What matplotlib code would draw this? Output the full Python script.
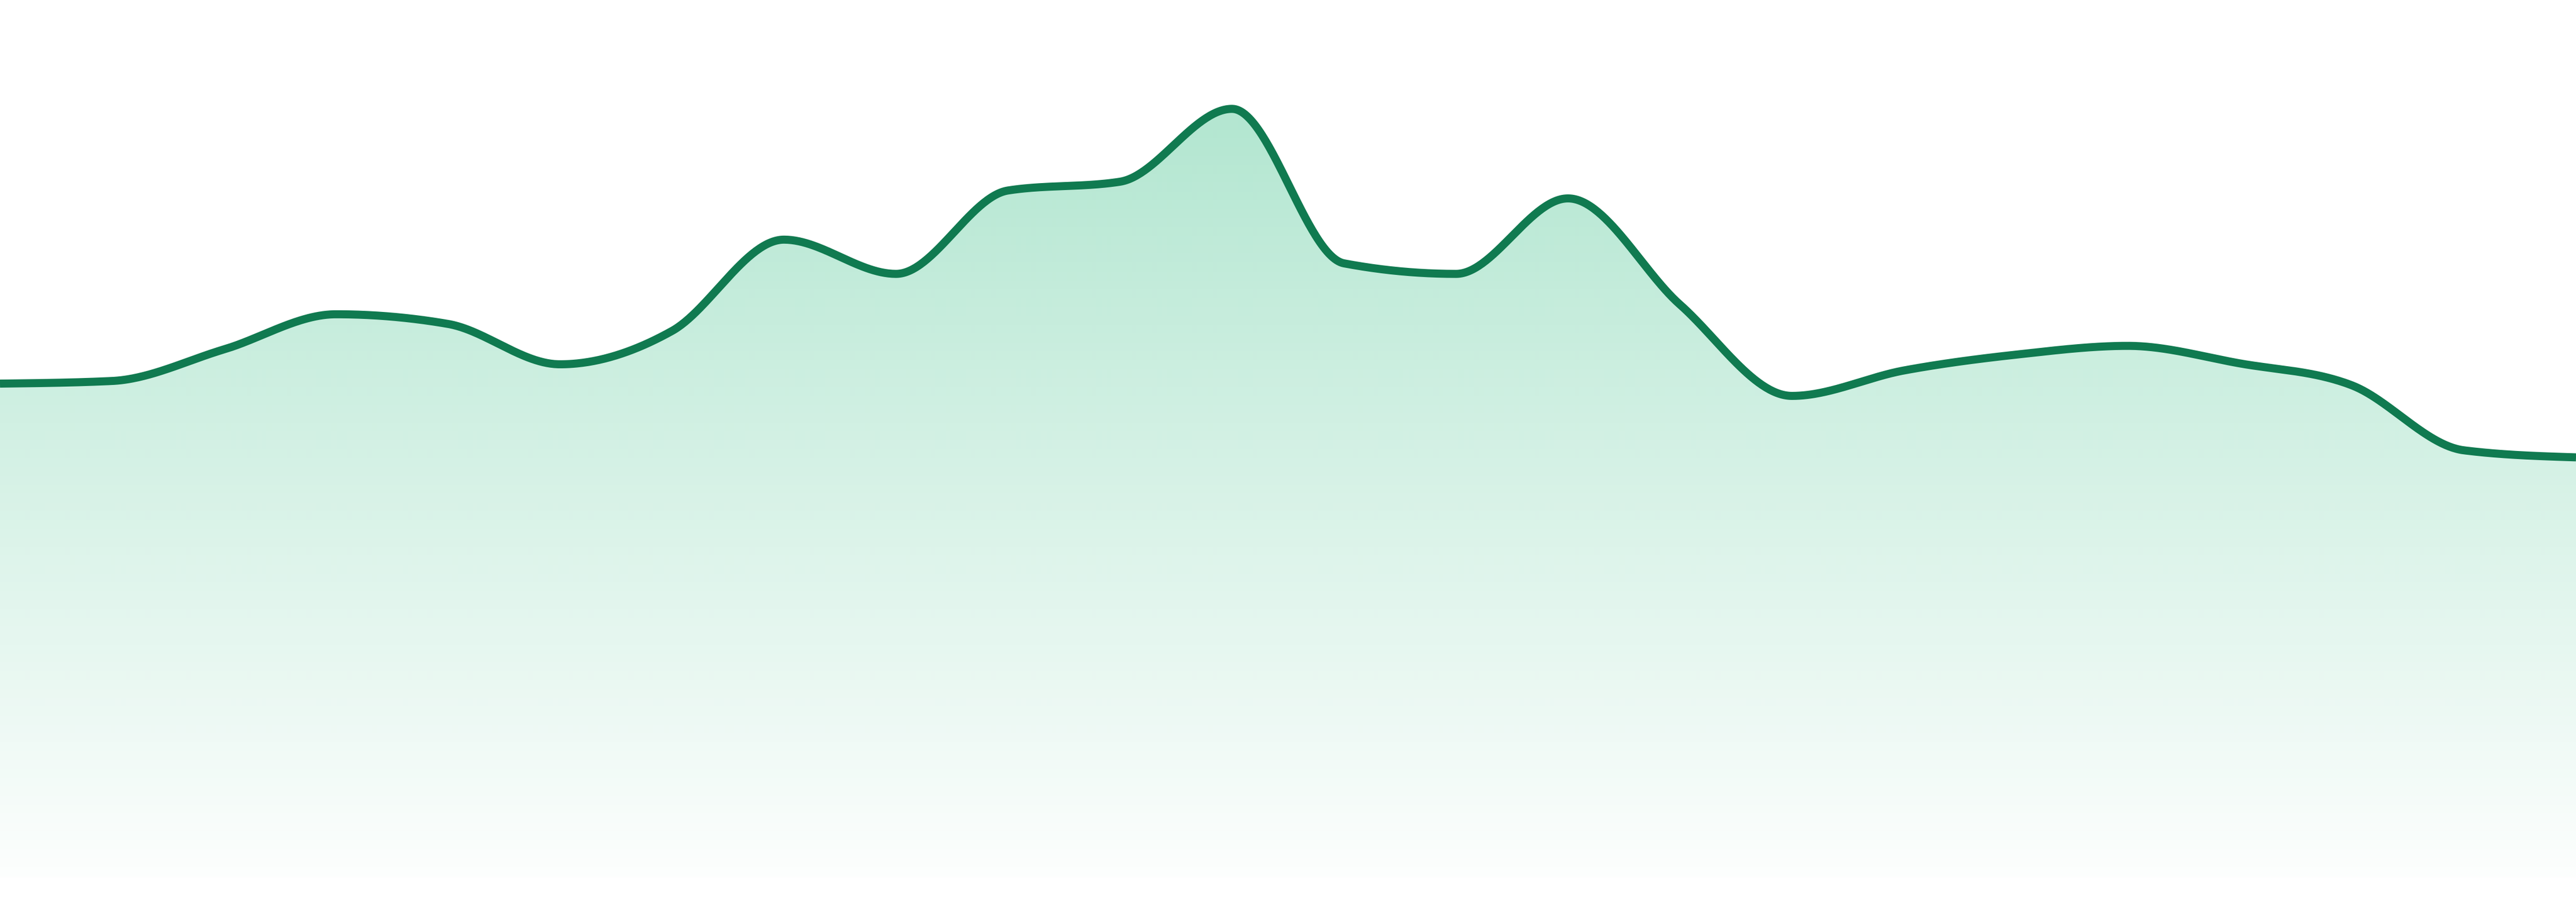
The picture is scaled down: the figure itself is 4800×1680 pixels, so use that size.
import numpy as np
import matplotlib
matplotlib.use("Agg")
import matplotlib.pyplot as plt
from matplotlib.patches import Polygon

# values (baseline = 0)
periods = list(range(24))
values = [56.3, 56.6, 60.2, 64.2, 63.1, 58.5, 62.3, 72.7, 68.8, 78.3, 79.3, 87.6,
          70.0, 68.8, 77.4, 65.3, 54.9, 57.8, 59.6, 60.6, 58.6, 56.1, 48.7, 47.9]

LINE_COLOR = "#107a50"
FILL_RGB = (35 / 255, 184 / 255, 121 / 255)


def monotone_x(x, y, n=60):
    x = np.asarray(x, float)
    y = np.asarray(y, float)
    m = len(x)
    h = np.diff(x)
    s = np.diff(y) / h
    t = np.zeros(m)
    for i in range(1, m - 1):
        h0, h1 = h[i - 1], h[i]
        s0, s1 = s[i - 1], s[i]
        p = (s0 * h1 + s1 * h0) / (h0 + h1)
        t[i] = (np.sign(s0) + np.sign(s1)) * min(abs(s0), abs(s1), 0.5 * abs(p))
    t[0] = (3 * s[0] - t[1]) / 2
    t[-1] = (3 * s[-1] - t[-2]) / 2
    xs, ys = [], []
    for i in range(m - 1):
        u = np.linspace(0, 1, n, endpoint=(i == m - 2))
        dx = h[i]
        h00 = 2 * u**3 - 3 * u**2 + 1
        h10 = u**3 - 2 * u**2 + u
        h01 = -2 * u**3 + 3 * u**2
        h11 = u**3 - u**2
        xs.append(x[i] + u * dx)
        ys.append(h00 * y[i] + h10 * dx * t[i] + h01 * y[i + 1] + h11 * dx * t[i + 1])
    return np.concatenate(xs), np.concatenate(ys)


W, H, DPI = 4800, 1680, 300
fig = plt.figure(figsize=(W / DPI, H / DPI), dpi=DPI)
fig.patch.set_facecolor("white")
ax = fig.add_axes([0, 0, 1, 1])
ax.set_axis_off()

ymin, ymax = -2.752, 100.0
ax.set_xlim(periods[0], periods[-1])
ax.set_ylim(ymin, ymax)

xs, ys = monotone_x(periods, values)

# gradient fill clipped to the area under the curve
poly_pts = np.column_stack([np.r_[xs, xs[-1], xs[0]], np.r_[ys, 0, 0]])
poly = Polygon(poly_pts, closed=True, facecolor="none", edgecolor="none")
ax.add_patch(poly)

rows = np.arange(H)
alpha = np.clip(0.35 * (H - rows) / (H - 203), 0, 1)
grad = np.zeros((H, 2, 4))
grad[..., 0] = FILL_RGB[0]
grad[..., 1] = FILL_RGB[1]
grad[..., 2] = FILL_RGB[2]
grad[..., 3] = alpha[:, None]
im = ax.imshow(grad, extent=(periods[0], periods[-1], ymin, ymax), origin="upper",
               aspect="auto", interpolation="bilinear", zorder=1)
im.set_clip_path(poly)

ax.plot(xs, ys, color=LINE_COLOR, lw=15 * 72 / DPI, solid_capstyle="butt",
        solid_joinstyle="round", zorder=3)

fig.savefig("out.png", dpi=DPI, facecolor="white")
